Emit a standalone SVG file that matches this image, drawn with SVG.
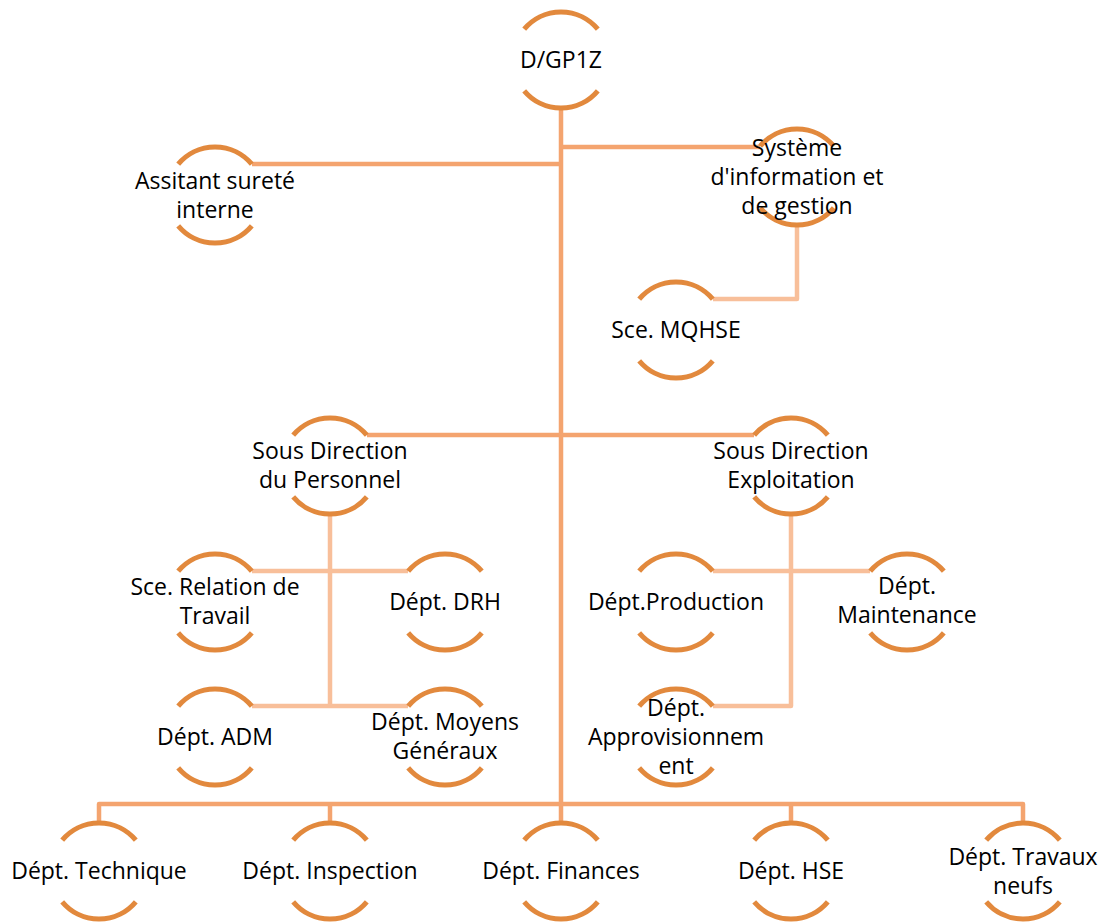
<svg xmlns="http://www.w3.org/2000/svg" width="1103" height="922" viewBox="0 0 1103 922">
<defs>
<style>
.arc{fill:none;stroke:#E2893D;stroke-width:5;}
.main{fill:none;stroke:#F4A46F;stroke-width:4.5;stroke-linejoin:round;}
.sub{fill:none;stroke:#F8BF9A;stroke-width:4.5;stroke-linejoin:round;}
text{font-family:"Open Sans","Liberation Sans",sans-serif;font-size:23px;fill:#000;text-anchor:middle;}
</style>
<g id="ring">
<path d="M -36.8 -30.9 A 48 48 0 0 1 36.8 -30.9"/>
<path d="M -36.8 30.9 A 48 48 0 0 0 36.8 30.9"/>
</g>
</defs>
<rect width="1103" height="922" fill="#fff"/>
<g id="connectors">
<path class="main" d="M561 108 V823"/>
<path class="main" d="M561 164 H252"/>
<path class="main" d="M561 147 H760"/>
<path class="sub" d="M797 225 V299 H713"/>
<path class="main" d="M367 435 H754"/>
<path class="sub" d="M330 514 V706"/>
<path class="sub" d="M252 571 H408"/>
<path class="sub" d="M252 706 H408"/>
<path class="sub" d="M791 514 V706 H713"/>
<path class="sub" d="M713 571 H870"/>
<path class="main" d="M99 823 V804 H1023 V823"/>
<path class="main" d="M330 804 V823"/>
<path class="main" d="M791 804 V823"/>
</g>
<g id="n-dgp1z"><use href="#ring" class="arc" x="561" y="60"/><text x="561" y="68">D/GP1Z</text></g>
<g id="n-assistant"><use href="#ring" class="arc" x="215" y="195"/><text x="215" y="189">Assitant sureté</text><text x="215" y="218">interne</text></g>
<g id="n-systeme"><use href="#ring" class="arc" x="797" y="177"/><text x="797" y="156">Système</text><text x="797" y="185">d'information et</text><text x="797" y="214">de gestion</text></g>
<g id="n-mqhse"><use href="#ring" class="arc" x="676" y="330"/><text x="676" y="338">Sce. MQHSE</text></g>
<g id="n-personnel"><use href="#ring" class="arc" x="330" y="466"/><text x="330" y="459">Sous Direction</text><text x="330" y="488">du Personnel</text></g>
<g id="n-exploitation"><use href="#ring" class="arc" x="791" y="466"/><text x="791" y="459">Sous Direction</text><text x="791" y="488">Exploitation</text></g>
<g id="n-relation"><use href="#ring" class="arc" x="215" y="602"/><text x="215" y="595">Sce. Relation de</text><text x="215" y="624">Travail</text></g>
<g id="n-drh"><use href="#ring" class="arc" x="445" y="602"/><text x="445" y="610">Dépt. DRH</text></g>
<g id="n-adm"><use href="#ring" class="arc" x="215" y="737"/><text x="215" y="745">Dépt. ADM</text></g>
<g id="n-moyens"><use href="#ring" class="arc" x="445" y="737"/><text x="445" y="730">Dépt. Moyens</text><text x="445" y="759">Généraux</text></g>
<g id="n-production"><use href="#ring" class="arc" x="676" y="602"/><text x="676" y="610">Dépt.Production</text></g>
<g id="n-maintenance"><use href="#ring" class="arc" x="907" y="602"/><text x="907" y="594">Dépt.</text><text x="907" y="623">Maintenance</text></g>
<g id="n-approvisionnement"><use href="#ring" class="arc" x="676" y="737"/><text x="676" y="716">Dépt.</text><text x="676" y="745">Approvisionnem</text><text x="676" y="774">ent</text></g>
<g id="n-technique"><use href="#ring" class="arc" x="99" y="871"/><text x="99" y="879">Dépt. Technique</text></g>
<g id="n-inspection"><use href="#ring" class="arc" x="330" y="871"/><text x="330" y="879">Dépt. Inspection</text></g>
<g id="n-finances"><use href="#ring" class="arc" x="561" y="871"/><text x="561" y="879">Dépt. Finances</text></g>
<g id="n-hse"><use href="#ring" class="arc" x="791" y="871"/><text x="791" y="879">Dépt. HSE</text></g>
<g id="n-travaux"><use href="#ring" class="arc" x="1023" y="871"/><text x="1023" y="865">Dépt. Travaux</text><text x="1023" y="894">neufs</text></g>
</svg>
